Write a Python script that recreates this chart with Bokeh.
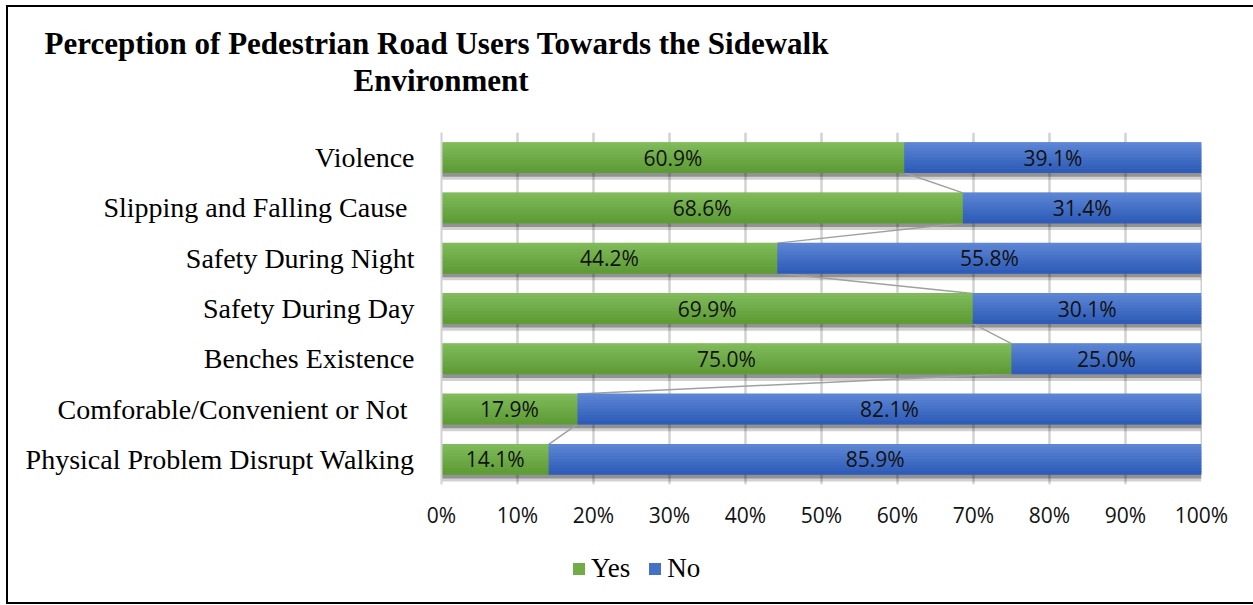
from bokeh.plotting import figure
from bokeh.layouts import column
from bokeh.models import ColumnDataSource, FactorRange, Range1d, Title, Legend, LegendItem, FixedTicker
from bokeh.core.properties import value
from bokeh.embed import file_html
from bokeh.resources import INLINE

# ---- data ----
categories = [
    "Violence",
    "Slipping and Falling Cause ",
    "Safety During Night",
    "Safety During Day",
    "Benches Existence",
    "Comforable/Convenient  or Not",
    "Physical Problem Disrupt Walking",
]
yes_pct = [60.9, 68.6, 44.2, 69.9, 75.0, 17.9, 14.1]
no_pct = [39.1, 31.4, 55.8, 30.1, 25.0, 82.1, 85.9]
series_names = ["Yes", "No"]
x_ticks = [0, 10, 20, 30, 40, 50, 60, 70, 80, 90, 100]
x_tick_labels = ["0%", "10%", "20%", "30%", "40%", "50%", "60%", "70%", "80%", "90%", "100%"]
title_lines = ["Perception of Pedestrian Road Users Towards the Sidewalk", "Environment"]

# ---- styling ----
GREEN = "#70ad47"
BLUE = "#4472c4"
GREEN_TOP, GREEN_BOT = (128, 186, 90), (94, 156, 54)
BLUE_TOP, BLUE_BOT = (92, 133, 212), (46, 92, 184)
BAR_H = 0.6
N_STRIPS = 10


def mix(c0, c1, t):
    return "#%02x%02x%02x" % tuple(round(a + (b - a) * t) for a, b in zip(c0, c1))


ends = [y + n for y, n in zip(yes_pct, no_pct)]
src = ColumnDataSource(dict(
    cat=categories,
    yes=yes_pct,
    no=no_pct,
    zero=[0] * len(categories),
    end=ends,
    yes_mid=[y / 2 for y in yes_pct],
    no_mid=[y + n / 2 for y, n in zip(yes_pct, no_pct)],
    yes_lbl=[f"{v:.1f}%" for v in yes_pct],
    no_lbl=[f"{v:.1f}%" for v in no_pct],
    sh1=[(c, -0.08) for c in categories],
    sh2=[(c, -0.14) for c in categories],
))

# gradient strips for both series, derived from the data arrays
strip_h = BAR_H / N_STRIPS
gy, gl, gr, gc = [], [], [], []
for k in range(N_STRIPS):
    off = BAR_H / 2 - (k + 0.5) * strip_h
    t = k / (N_STRIPS - 1)
    for c, yv, ev in zip(categories, yes_pct, ends):
        gy += [(c, off), (c, off)]
        gl += [0, yv]
        gr += [yv, ev]
        gc += [mix(GREEN_TOP, GREEN_BOT, t), mix(BLUE_TOP, BLUE_BOT, t)]
grad = ColumnDataSource(dict(y=gy, left=gl, right=gr, color=gc))

# ---- main chart ----
p = figure(
    width=1247, height=535,
    y_range=FactorRange(factors=categories[::-1], range_padding=0),
    x_range=Range1d(0, 100),
    output_backend="svg", toolbar_location=None,
    min_border_left=433, min_border_right=54, min_border_top=125, min_border_bottom=58,
)
p.styles = {"border-left": "2px solid #000", "border-top": "2px solid #000"}
p.outline_line_color = None
p.background_fill_color = "white"

p.xgrid.ticker = FixedTicker(ticks=x_ticks)
p.xgrid.grid_line_color = "#d2d2d2"
p.xgrid.grid_line_width = 2.5
p.ygrid.visible = False

# shadows
p.hbar(y="sh2", left="zero", right="end", height=BAR_H, source=src,
       fill_color="#000000", fill_alpha=0.18, line_color=None)
p.hbar(y="sh1", left="zero", right="end", height=BAR_H, source=src,
       fill_color="#000000", fill_alpha=0.3, line_color=None)

# series lines (connect bar ends)
seg = ColumnDataSource(dict(
    x0=yes_pct[:-1], x1=yes_pct[1:],
    y0=[(c, -BAR_H / 2) for c in categories[:-1]],
    y1=[(c, BAR_H / 2) for c in categories[1:]],
    e0=ends[:-1], e1=ends[1:],
))
p.segment(x0="x0", y0="y0", x1="x1", y1="y1", source=seg, line_color="#a0a0a0", line_width=1.5)
p.segment(x0="e0", y0="y0", x1="e1", y1="y1", source=seg, line_color="#a0a0a0", line_width=1.5)

# bars (base colour + vertical gradient)
p.hbar(y="cat", left="zero", right="yes", height=BAR_H, source=src,
       fill_color=GREEN, line_color=None)
p.hbar(y="cat", left="yes", right="end", height=BAR_H, source=src,
       fill_color=BLUE, line_color=None)
p.hbar(y="y", left="left", right="right", height=strip_h * 1.25, source=grad,
       fill_color="color", line_color=None)

lbl_font = value("Open Sans")
p.text(x="yes_mid", y="cat", text="yes_lbl", source=src, text_align="center",
       text_baseline="middle", text_font=lbl_font, text_font_size="21px", text_color="#111111")
p.text(x="no_mid", y="cat", text="no_lbl", source=src, text_align="center",
       text_baseline="middle", text_font=lbl_font, text_font_size="21px", text_color="#111111")

p.yaxis.axis_line_color = "#d2d2d2"
p.yaxis.axis_line_width = 2
p.yaxis.major_tick_line_color = None
p.yaxis.minor_tick_line_color = None
p.yaxis.major_label_text_font = "Liberation Serif"
p.yaxis.major_label_text_font_size = "28px"
p.yaxis.major_label_text_color = "#000000"
p.yaxis.major_label_standoff = 21

p.xaxis.ticker = FixedTicker(ticks=x_ticks)
p.xaxis.major_label_overrides = {t: l for t, l in zip(x_ticks, x_tick_labels)}
p.xaxis.axis_line_color = None
p.xaxis.major_tick_line_color = None
p.xaxis.minor_tick_line_color = None
p.xaxis.major_tick_out = 0
p.xaxis.major_label_text_font = "Open Sans"
p.xaxis.major_label_text_font_size = "21px"
p.xaxis.major_label_text_color = "#111111"
p.xaxis.major_label_standoff = 16

# title: stacked in the panel above the frame (first added = nearest frame)
TITLE_PX = 31
p.add_layout(Title(text=" ", align="left", standoff=28, text_font_size="4px"), "above")
p.add_layout(Title(text=title_lines[1], align="left", offset=-88, standoff=0,
                   text_font="Liberation Serif", text_font_style="bold",
                   text_font_size=f"{TITLE_PX}px", text_color="#000000"), "above")
p.add_layout(Title(text=title_lines[0], align="left", offset=-397, standoff=0,
                   text_font="Liberation Serif", text_font_style="bold",
                   text_font_size=f"{TITLE_PX}px", text_color="#000000"), "above")

# ---- legend strip below the chart ----
p2 = figure(width=1247, height=64, x_range=Range1d(0, 1), y_range=Range1d(0, 1),
            output_backend="svg", toolbar_location=None,
            x_axis_location=None, y_axis_location=None,
            min_border_left=0, min_border_right=0, min_border_top=0, min_border_bottom=0)
p2.styles = {"border-left": "2px solid #000", "border-bottom": "2px solid #000"}
p2.outline_line_color = None
p2.xgrid.visible = False
p2.ygrid.visible = False
# legend swatches: hidden renderers carrying the series styles
leg_yes = p2.hbar(y="zero", left="zero", right="yes", height=BAR_H, source=src,
                  fill_color=GREEN, line_color=None, visible=False)
leg_no = p2.hbar(y="zero", left="yes", right="end", height=BAR_H, source=src,
                 fill_color=BLUE, line_color=None, visible=False)

legend = Legend(items=[LegendItem(label=series_names[0], renderers=[leg_yes]),
                       LegendItem(label=series_names[1], renderers=[leg_no])],
                location=(130, 20), orientation="horizontal",
                background_fill_alpha=0, border_line_color=None,
                padding=0, margin=0, spacing=17, click_policy="none",
                glyph_width=15, glyph_height=15, label_standoff=5,
                label_text_font="Liberation Serif", label_text_font_size="27px",
                label_text_color="#000000")
p2.add_layout(legend, "center")

layout = column(p, p2, spacing=0)
layout.margin = (5, 0, 0, 6)

open("out.html", "w").write(file_html(layout, INLINE))
